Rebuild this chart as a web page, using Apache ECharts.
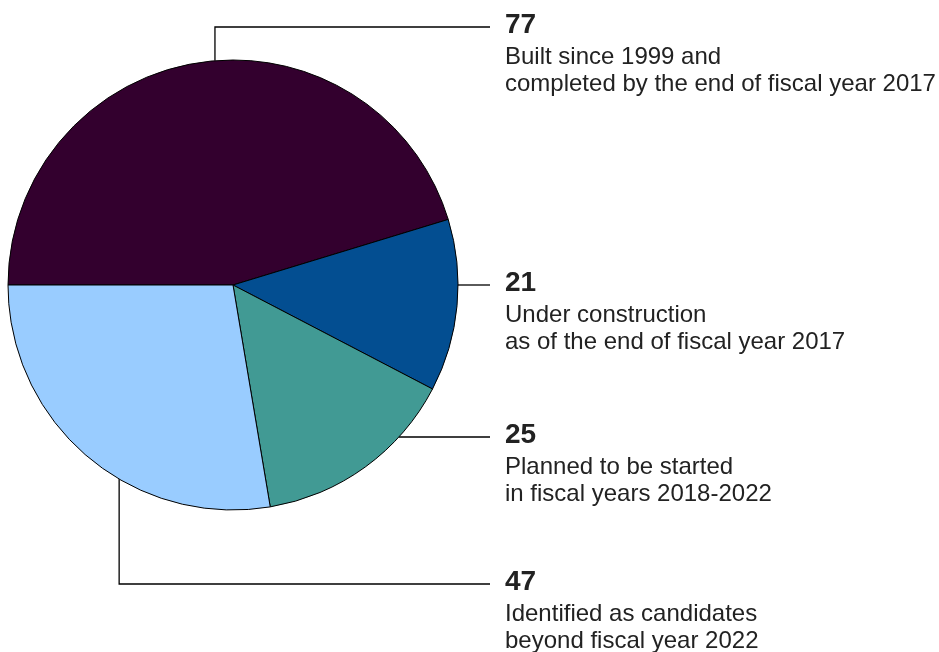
<!DOCTYPE html>
<html>
<head>
<meta charset="utf-8">
<script src="https://cdn.jsdelivr.net/npm/echarts@6/dist/echarts.min.js"></script>
<style>
html,body{margin:0;padding:0;background:#fff;}
#chart{width:939px;height:652px;}
</style>
</head>
<body>
<div id="chart"></div>
<script>
// Data
var categories = [
  ['Built since 1999 and', 'completed by the end of fiscal year 2017'],
  ['Under construction', 'as of the end of fiscal year 2017'],
  ['Planned to be started', 'in fiscal years 2018-2022'],
  ['Identified as candidates', 'beyond fiscal year 2022']
];
var values = [77, 21, 25, 47];
var colors = ['#33002E', '#034E91', '#419A94', '#99CCFF'];

// Layout (not data)
var CX = 233, CY = 285, R = 225;
var anchorAngles = [94.6, 0, -42.5, -120.4]; // degrees where leader lines leave the arc
var elbowY = [27, 285, 437, 584];
var lineEndX = 490, labelX = 505;

var chart = echarts.init(document.getElementById('chart'));
chart.setOption({
  animation: false,
  series: [{
    type: 'pie',
    center: [CX, CY],
    radius: R,
    startAngle: 180,
    clockwise: true,
    avoidLabelOverlap: false,
    emphasis: {disabled: true},
    itemStyle: {borderColor: '#000', borderWidth: 1},
    data: values.map(function (v, i) {
      return {value: v, name: categories[i].join(' '), itemStyle: {color: colors[i]}};
    }),
    label: {
      show: true,
      position: 'outside',
      fontFamily: '"Liberation Sans", Arial, sans-serif',
      formatter: function (p) {
        var c = categories[p.dataIndex];
        return '{n|' + p.value + '}\n{d|' + c[0] + '}\n{d|' + c[1] + '}';
      },
      rich: {
        n: {fontSize: 28, fontWeight: 'bold', color: '#222', lineHeight: 38, fontFamily: '"Liberation Sans", Arial, sans-serif'},
        d: {fontSize: 24, color: '#222', lineHeight: 27, fontFamily: '"Liberation Sans", Arial, sans-serif'}
      }
    },
    labelLine: {show: true, smooth: false, lineStyle: {color: '#000', width: 1.3}},
    labelLayout: function (params) {
      var i = params.dataIndex;
      var a = anchorAngles[i] * Math.PI / 180;
      var ax = CX + R * Math.cos(a), ay = CY - R * Math.sin(a);
      var ey = elbowY[i];
      return {
        x: labelX,
        y: ey - 21,
        align: 'left',
        verticalAlign: 'top',
        labelLinePoints: [[ax, ay], [ax, ey], [lineEndX, ey]]
      };
    }
  }]
});
</script>
</body>
</html>
